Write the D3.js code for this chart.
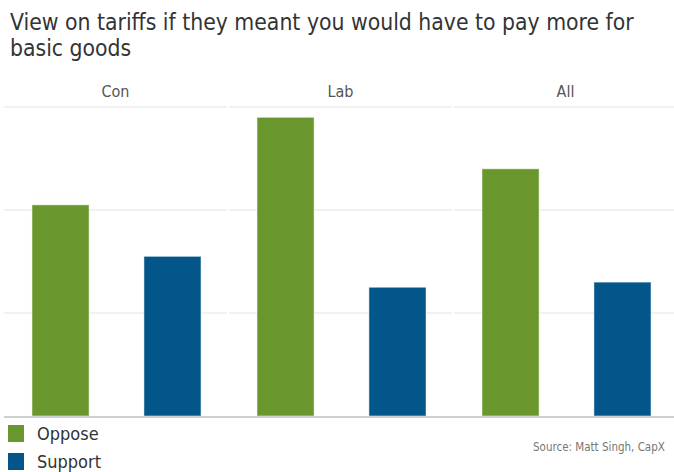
<!DOCTYPE html>
<html>
<head>
<meta charset="utf-8">
<script src="https://cdn.jsdelivr.net/npm/d3@7"></script>
<style>
  body { margin:0; background:#fff; }
  text { font-family: "DejaVu Sans Condensed", "DejaVu Sans", sans-serif; }
</style>
</head>
<body>
<svg></svg>
<script>
var groups = ["Con", "Lab", "All"];
var series = ["Oppose", "Support"];
var oppose = [41, 58, 48];
var support = [31, 25, 26];
var gridTicks = [0, 20, 40, 60];

var colors = d3.scaleOrdinal()
  .domain(series)
  .range(["#6a962e", "#02568a"]);

var screen = { width:674, height:472 };

var svg = d3.select("svg")
  .attr("width", screen.width)
  .attr("height", screen.height);

var margins = { top:107, bottom:56, left:4, right:-5 };
var width = screen.width - margins.left - margins.right;
var height = screen.height - margins.top - margins.bottom;

// data
var rows = groups.map(function(g, i) {
  return { group:g, values:[
    { key:"Oppose", value:oppose[i] },
    { key:"Support", value:support[i] }
  ]};
});

var x0 = d3.scaleBand()
  .domain(groups)
  .range([0, width]);

var x1 = d3.scaleBand()
  .domain(series)
  .range([0, x0.bandwidth()])
  .paddingInner(0.49)
  .paddingOuter(0.25);

var yScale = d3.scaleLinear()
  .domain([0, 60])
  .range([height, 0]);

// title
var title = svg.append("g").attr("class", "title");
["View on tariffs if they meant you would have to pay more for", "basic goods"]
  .forEach(function(line, i) {
    title.append("text")
      .attr("x", 10)
      .attr("y", 30 + i * 26)
      .attr("font-size", 22)
      .attr("fill", "#333")
      .text(line);
  });
// fit first line width to reference
var t0 = title.select("text").node();
var fs = 22 * 624 / t0.getComputedTextLength();
title.selectAll("text").attr("font-size", fs);

var plotLand = svg.append("g")
  .attr("transform", "translate(" + margins.left + "," + margins.top + ")");

var panels = plotLand.selectAll("g.panel")
  .data(rows)
  .enter()
  .append("g")
  .attr("class", "panel")
  .attr("transform", function(d) { return "translate(" + x0(d.group) + ",0)"; });

// facet label
panels.append("text")
  .attr("x", x0.bandwidth() / 2 - 1)
  .attr("y", -10)
  .attr("text-anchor", "middle")
  .attr("font-size", 16)
  .attr("fill", "#555")
  .text(function(d) { return d.group; });

// gridlines per panel
panels.selectAll("line.grid")
  .data(gridTicks.slice(1))
  .enter()
  .append("line")
  .attr("class", "grid")
  .attr("x1", 0)
  .attr("x2", x0.bandwidth() - 2)
  .attr("y1", function(d) { return yScale(d); })
  .attr("y2", function(d) { return yScale(d); })
  .attr("stroke", "#ececec")
  .attr("stroke-width", 1.5);

// bars
panels.selectAll("rect")
  .data(function(d) { return d.values; })
  .enter()
  .append("rect")
  .attr("x", function(d) { return x1(d.key); })
  .attr("y", function(d) { return yScale(d.value); })
  .attr("width", x1.bandwidth())
  .attr("height", function(d) { return yScale(0) - yScale(d.value); })
  .attr("fill", function(d) { return colors(d.key); })
  .attr("stroke", "#ffffff")
  .attr("stroke-opacity", 0.5)
  .attr("stroke-width", 1);

// baseline
plotLand.append("line")
  .attr("x1", 0)
  .attr("x2", width)
  .attr("y1", yScale(0) + 1)
  .attr("y2", yScale(0) + 1)
  .attr("stroke", "#d0d0d0")
  .attr("stroke-width", 2);

// legend
var legend = svg.append("g")
  .attr("transform", "translate(8,425)");

var legendLines = legend.selectAll("g")
  .data(series)
  .enter()
  .append("g")
  .attr("transform", function(d, i) { return "translate(0," + (i * 28) + ")"; });

legendLines.append("rect")
  .attr("width", 16)
  .attr("height", 17)
  .attr("fill", function(d) { return colors(d); });

legendLines.append("text")
  .attr("x", 29)
  .attr("y", 15)
  .attr("font-size", 18)
  .attr("fill", "#333")
  .text(function(d) { return d; });

svg.append("text")
  .attr("x", 533)
  .attr("y", 451)
  .attr("font-size", 11.5)
  .attr("fill", "#777")
  .text("Source: Matt Singh, CapX");
</script>
</body>
</html>
